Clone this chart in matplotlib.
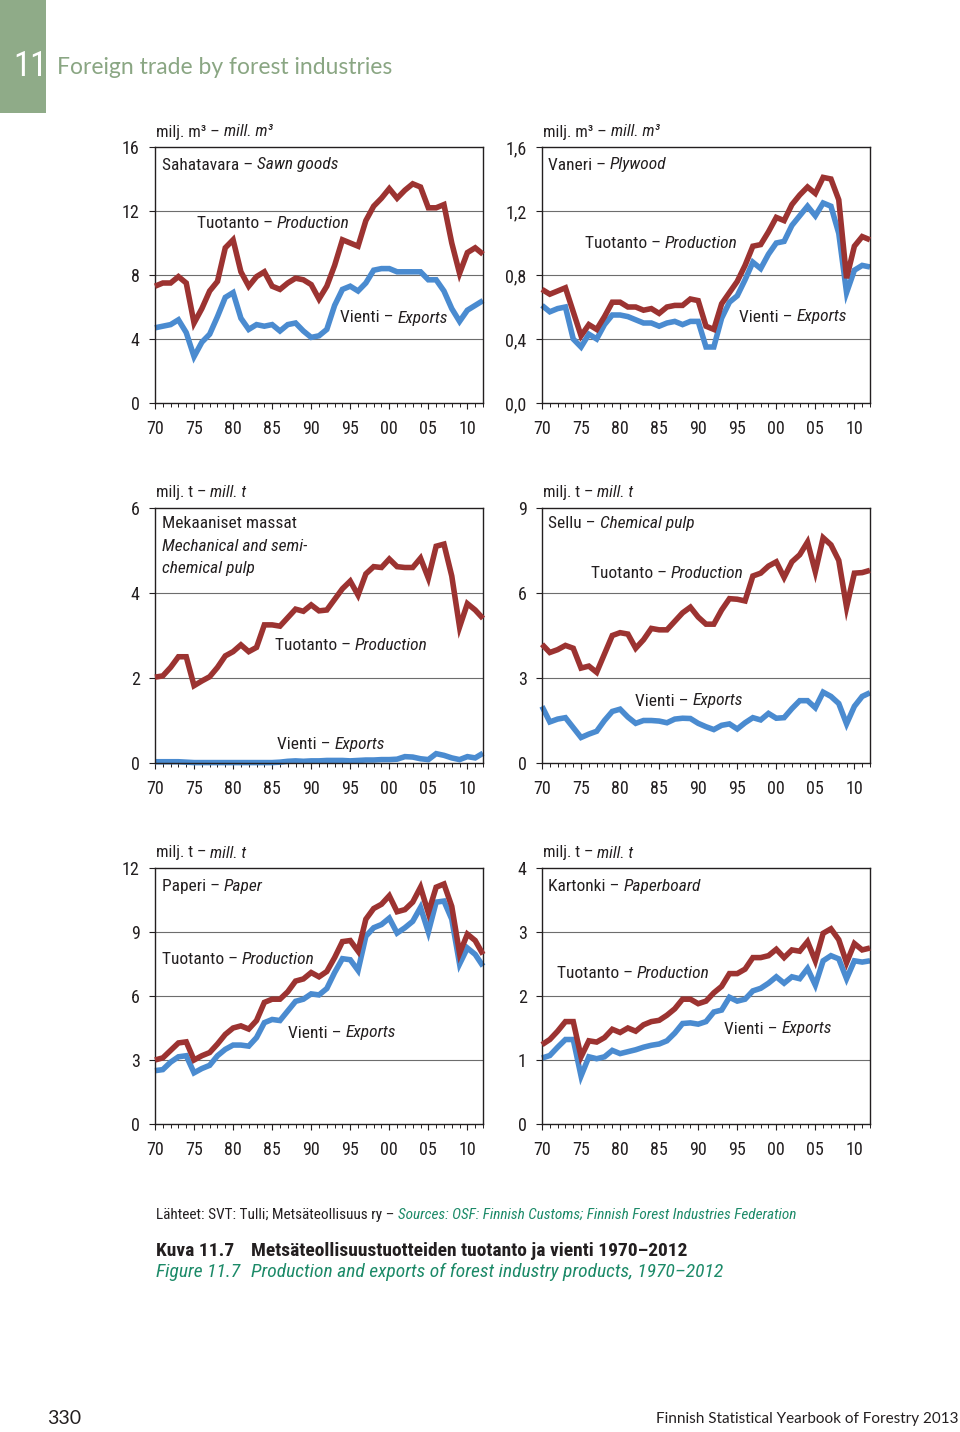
import matplotlib
matplotlib.use("Agg")
import matplotlib.pyplot as plt
from matplotlib import font_manager as fm
from matplotlib.ticker import MultipleLocator

names = {f.name for f in fm.fontManager.ttflist}
NARROW = "Roboto"
for cand in ["Liberation Sans Narrow", "Roboto Condensed", "Open Sans Condensed", "Roboto"]:
    if cand in names:
        NARROW = cand
        break

years = list(range(1970, 2013))

sawn_prod = [7.3, 7.5, 7.5, 7.9, 7.5, 5.0, 5.9, 7.0, 7.6, 9.7, 10.2, 8.2, 7.3, 7.9, 8.2, 7.3, 7.1, 7.5, 7.8, 7.7,
             7.4, 6.5, 7.3, 8.6, 10.2, 10.0, 9.8, 11.4, 12.3, 12.8, 13.4, 12.8, 13.3, 13.7, 13.5, 12.2, 12.2, 12.4,
             10.0, 8.1, 9.4, 9.7, 9.3]
sawn_exp = [4.7, 4.8, 4.9, 5.2, 4.4, 2.9, 3.8, 4.3, 5.4, 6.6, 6.9, 5.3, 4.6, 4.9, 4.8, 4.9, 4.5, 4.9, 5.0, 4.5,
            4.1, 4.2, 4.6, 6.1, 7.1, 7.3, 7.0, 7.5, 8.3, 8.4, 8.4, 8.2, 8.2, 8.2, 8.2, 7.7, 7.7, 7.0,
            5.9, 5.1, 5.8, 6.1, 6.4]

ply_prod = [0.71, 0.68, 0.70, 0.72, 0.57, 0.42, 0.49, 0.46, 0.54, 0.63, 0.63, 0.60, 0.60, 0.58, 0.59, 0.56, 0.60,
            0.61, 0.61, 0.65, 0.64, 0.48, 0.46, 0.62, 0.69, 0.76, 0.86, 0.98, 0.99, 1.07, 1.16, 1.14, 1.24, 1.30,
            1.35, 1.31, 1.41, 1.40, 1.27, 0.78, 0.98, 1.04, 1.02]
ply_exp = [0.61, 0.57, 0.59, 0.60, 0.40, 0.35, 0.43, 0.40, 0.49, 0.55, 0.55, 0.54, 0.52, 0.50, 0.50, 0.48, 0.50,
           0.51, 0.49, 0.51, 0.51, 0.35, 0.35, 0.53, 0.63, 0.67, 0.77, 0.88, 0.84, 0.93, 1.00, 1.01, 1.11, 1.17,
           1.23, 1.17, 1.25, 1.23, 1.06, 0.69, 0.83, 0.86, 0.85]

mech_prod = [2.02, 2.05, 2.25, 2.5, 2.5, 1.82, 1.93, 2.03, 2.25, 2.52, 2.62, 2.78, 2.62, 2.72, 3.25, 3.25, 3.22,
             3.42, 3.62, 3.57, 3.72, 3.58, 3.6, 3.85, 4.1, 4.28, 3.95, 4.45, 4.62, 4.6, 4.8, 4.62, 4.6, 4.6,
             4.82, 4.35, 5.1, 5.15, 4.4, 3.2, 3.75, 3.6, 3.4]
mech_exp = [0.03, 0.03, 0.03, 0.03, 0.02, 0.01, 0.01, 0.01, 0.01, 0.01, 0.01, 0.01, 0.01, 0.01, 0.01, 0.01, 0.02,
            0.04, 0.05, 0.04, 0.05, 0.05, 0.06, 0.06, 0.06, 0.05, 0.06, 0.07, 0.07, 0.08, 0.08, 0.09, 0.15, 0.14,
            0.10, 0.08, 0.22, 0.18, 0.12, 0.08, 0.15, 0.12, 0.23]

chem_prod = [4.19, 3.9, 4.0, 4.15, 4.05, 3.35, 3.42, 3.2, 3.85, 4.5, 4.6, 4.55, 4.05, 4.35, 4.75, 4.7, 4.7, 5.0,
             5.3, 5.5, 5.15, 4.9, 4.9, 5.4, 5.8, 5.78, 5.72, 6.6, 6.7, 6.95, 7.1, 6.55, 7.1, 7.35, 7.8, 6.75,
             7.95, 7.7, 7.15, 5.5, 6.7, 6.72, 6.8]
chem_exp = [2.0, 1.45, 1.55, 1.6, 1.25, 0.9, 1.02, 1.12, 1.5, 1.82, 1.9, 1.62, 1.4, 1.5, 1.5, 1.48, 1.42, 1.55,
            1.58, 1.57, 1.4, 1.28, 1.18, 1.33, 1.38, 1.2, 1.42, 1.6, 1.52, 1.75, 1.58, 1.6, 1.92, 2.2, 2.2, 1.95,
            2.5, 2.35, 2.1, 1.38, 2.0, 2.35, 2.48]

paper_prod = [3.0, 3.1, 3.45, 3.8, 3.85, 3.0, 3.2, 3.35, 3.75, 4.2, 4.5, 4.6, 4.45, 4.85, 5.7, 5.85, 5.85, 6.2,
              6.7, 6.8, 7.1, 6.9, 7.15, 7.8, 8.55, 8.6, 8.1, 9.6, 10.1, 10.3, 10.7, 9.95, 10.05, 10.4, 11.1, 9.9,
              11.1, 11.25, 10.2, 8.0, 8.9, 8.6, 7.95]
paper_exp = [2.5, 2.55, 2.9, 3.15, 3.2, 2.4, 2.6, 2.75, 3.2, 3.5, 3.7, 3.7, 3.65, 4.05, 4.75, 4.9, 4.85, 5.3,
             5.75, 5.85, 6.1, 6.05, 6.35, 7.1, 7.75, 7.7, 7.2, 8.8, 9.2, 9.35, 9.65, 8.95, 9.2, 9.5, 10.15, 9.0,
             10.4, 10.45, 9.6, 7.5, 8.25, 7.95, 7.4]

board_prod = [1.24, 1.32, 1.45, 1.6, 1.6, 1.05, 1.3, 1.28, 1.35, 1.48, 1.43, 1.5, 1.45, 1.55, 1.6, 1.62, 1.7,
              1.8, 1.95, 1.95, 1.88, 1.92, 2.05, 2.15, 2.35, 2.35, 2.42, 2.6, 2.6, 2.63, 2.73, 2.6, 2.72, 2.7,
              2.85, 2.55, 2.98, 3.05, 2.88, 2.52, 2.82, 2.72, 2.75]
board_exp = [1.03, 1.07, 1.2, 1.32, 1.32, 0.75, 1.05, 1.02, 1.05, 1.15, 1.1, 1.13, 1.16, 1.2, 1.23, 1.25, 1.3,
             1.42, 1.57, 1.58, 1.56, 1.6, 1.75, 1.78, 1.98, 1.92, 1.95, 2.08, 2.12, 2.2, 2.3, 2.2, 2.3, 2.27,
             2.43, 2.17, 2.55, 2.63, 2.58, 2.27, 2.55, 2.53, 2.55]

x_tick_years = [1970, 1975, 1980, 1985, 1990, 1995, 2000, 2005, 2010]
x_tick_labels = ["70", "75", "80", "85", "90", "95", "00", "05", "10"]

units_m3 = ("milj. m³ – ", "mill. m³")
units_t = ("milj. t – ", "mill. t")

RED = "#9c3331"
BLUE = "#4a8bd0"
TXT = "#231f20"
GREEN = "#1c8a68"

W, H = 960, 1432
fig = plt.figure(figsize=(W / 100, H / 100), dpi=100)
fig.patch.set_facecolor("white")
renderer = fig.canvas.get_renderer()


def fx(x):
    return x / W


def fy(y):
    return 1 - y / H


def mixed(px, py, parts, size=12.5, ha="left", family=NARROW, color=TXT, weight="normal"):
    """Draw plain + italic text pieces next to each other (pixel coordinates)."""
    texts, widths = [], []
    x = px
    for txt, style in parts:
        c = color if not isinstance(style, tuple) else style[1]
        st = style if not isinstance(style, tuple) else style[0]
        t = fig.text(fx(x), fy(py), txt, fontsize=size, family=family, style=st, color=c,
                     va="center", ha="left", weight=weight)
        w = t.get_window_extent(renderer=renderer).width
        texts.append(t)
        widths.append(w)
        x += w
    if ha == "center":
        x = px - sum(widths) / 2
        for t, w in zip(texts, widths):
            t.set_x(fx(x))
            x += w
    return texts


panels = [
    (155, 147, 483, 403, 16, 4, "int", sawn_prod, sawn_exp, units_m3),
    (542, 147, 870, 403, 1.6, 0.4, "dec", ply_prod, ply_exp, units_m3),
    (155, 508, 483, 763, 6, 2, "int", mech_prod, mech_exp, units_t),
    (542, 508, 870, 763, 9, 3, "int", chem_prod, chem_exp, units_t),
    (155, 868, 483, 1124, 12, 3, "int", paper_prod, paper_exp, units_t),
    (542, 868, 870, 1124, 4, 1, "int", board_prod, board_exp, units_t),
]

for (l, t, r, b, ymax, ystep, yfmt, prod, exp, units) in panels:
    ax = fig.add_axes([fx(l), fy(b), (r - l) / W, (b - t) / H])
    ax.set_xlim(1970, 2012)
    ax.set_ylim(0, ymax)
    nt = int(round(ymax / ystep))
    yt = [i * ystep for i in range(nt + 1)]
    ax.set_yticks(yt)
    if yfmt == "dec":
        ax.set_yticklabels([f"{v:.1f}".replace(".", ",") for v in yt])
    else:
        ax.set_yticklabels([f"{v:g}" for v in yt])
    ax.set_xticks(x_tick_years)
    ax.set_xticklabels(x_tick_labels)
    ax.xaxis.set_minor_locator(MultipleLocator(1))
    ax.tick_params(axis="both", which="major", direction="out", length=4, width=0.8, color=TXT,
                   labelsize=13, labelcolor=TXT)
    ax.tick_params(axis="x", which="major", pad=8)
    ax.tick_params(axis="y", which="major", pad=7)
    ax.tick_params(axis="x", which="minor", direction="out", length=3, width=0.7, color=TXT)
    for lab in ax.get_xticklabels() + ax.get_yticklabels():
        lab.set_family(NARROW)
    for v in yt[1:-1]:
        ax.axhline(v, color="#6d6d6d", lw=0.8, zorder=1)
    for s in ax.spines.values():
        s.set_color(TXT)
        s.set_linewidth(1.0)
    ax.plot(years, prod, color=RED, lw=4.0, solid_joinstyle="miter", solid_capstyle="butt", zorder=3,
            clip_on=False)
    ax.plot(years, exp, color=BLUE, lw=4.0, solid_joinstyle="miter", solid_capstyle="butt", zorder=2,
            clip_on=False)
    mixed(l + 1, t - 15, [(units[0], "normal"), (units[1], "italic")], size=12)

# panel titles
mixed(162, 165, [("Sahatavara – ", "normal"), ("Sawn goods", "italic")])
mixed(548, 165, [("Vaneri – ", "normal"), ("Plywood", "italic")])
mixed(162, 524, [("Mekaaniset massat", "normal")])
mixed(162, 546, [("Mechanical and semi-", "italic")])
mixed(162, 568, [("chemical pulp", "italic")])
mixed(548, 524, [("Sellu – ", "normal"), ("Chemical pulp", "italic")])
mixed(162, 886, [("Paperi – ", "normal"), ("Paper", "italic")])
mixed(548, 886, [("Kartonki – ", "normal"), ("Paperboard", "italic")])

# series labels
prodlab = [("Tuotanto – ", "normal"), ("Production", "italic")]
explab = [("Vienti – ", "normal"), ("Exports", "italic")]
mixed(273, 224, prodlab, ha="center")
mixed(394, 318, explab, ha="center")
mixed(661, 244, prodlab, ha="center")
mixed(793, 317, explab, ha="center")
mixed(351, 646, prodlab, ha="center")
mixed(331, 745, explab, ha="center")
mixed(667, 574, prodlab, ha="center")
mixed(689, 701, explab, ha="center")
mixed(162, 959, prodlab)
mixed(342, 1033, explab, ha="center")
mixed(633, 974, prodlab, ha="center")
mixed(778, 1029, explab, ha="center")

# header
fig.patches.append(plt.Rectangle((0, fy(113)), fx(46), 113 / H, transform=fig.transFigure,
                                 facecolor="#8fab88", edgecolor="none"))
fig.text(fx(30), fy(67), "11", fontsize=25, family=NARROW, weight="normal", color="white",
         ha="center", va="center")
fig.text(fx(57), fy(68), "Foreign trade by forest industries", fontsize=16.5, family="Lato",
         color="#8aa683", ha="left", va="center")

# sources and caption
mixed(156, 1215, [("Lähteet: SVT: Tulli; Metsäteollisuus ry – ", "normal"),
                  ("Sources: OSF: Finnish Customs; Finnish Forest Industries Federation", ("italic", GREEN))],
      size=11)
fig.text(fx(156), fy(1251), "Kuva 11.7", fontsize=14, family=NARROW, weight="bold", color=TXT,
         va="center")
fig.text(fx(251), fy(1251), "Metsäteollisuustuotteiden tuotanto ja vienti 1970–2012", fontsize=14,
         family=NARROW, weight="bold", color=TXT, va="center")
fig.text(fx(156), fy(1272), "Figure 11.7", fontsize=14, family=NARROW, style="italic", color=GREEN,
         va="center")
fig.text(fx(251), fy(1272), "Production and exports of forest industry products, 1970–2012", fontsize=14,
         family=NARROW, style="italic", color=GREEN, va="center")

# footer
fig.text(fx(47), fy(1418), "330", fontsize=14, family="Lato", color=TXT, va="center")
fig.text(fx(958), fy(1419), "Finnish Statistical Yearbook of Forestry 2013", fontsize=11, family="Lato",
         color=TXT, va="center", ha="right")

fig.savefig("out.png", dpi=100, facecolor="white")
